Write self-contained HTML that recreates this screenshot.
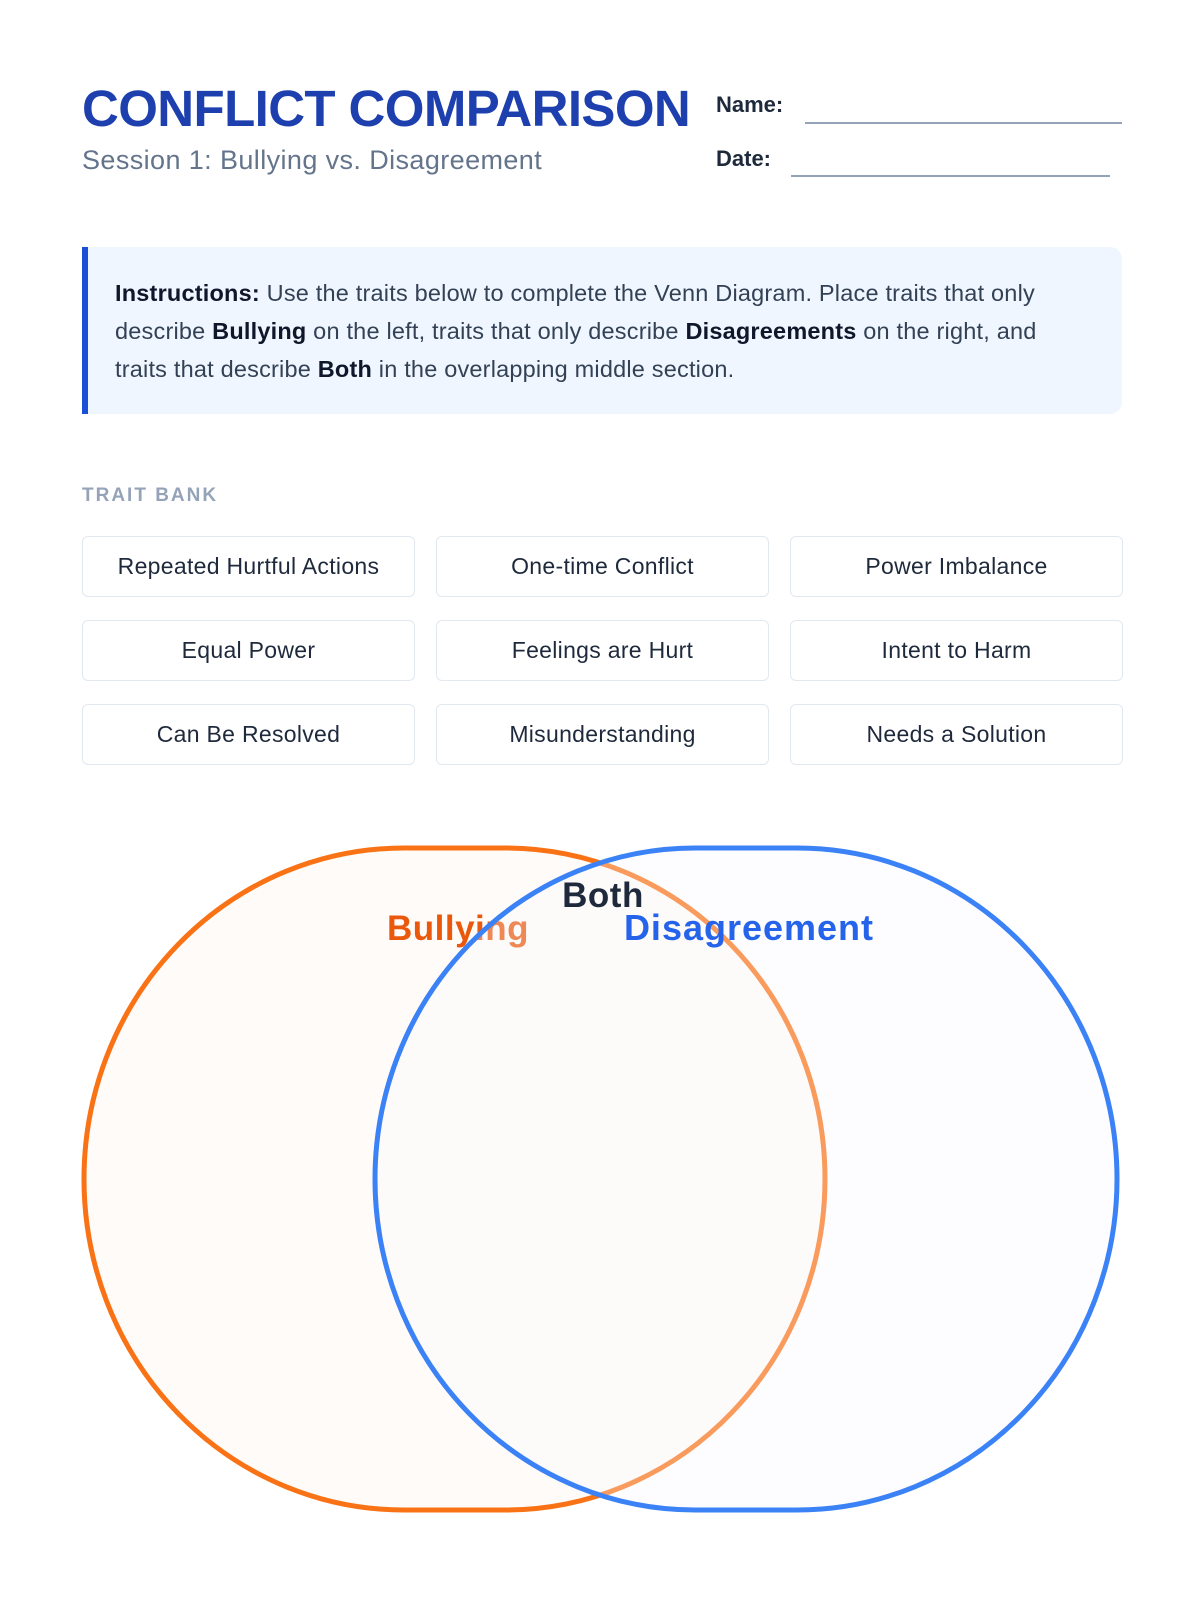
<!DOCTYPE html>
<html><head><meta charset="utf-8"><style>
*{margin:0;padding:0;box-sizing:border-box}
body{width:1200px;height:1600px;background:#fff;font-family:"Liberation Sans",sans-serif;position:relative;overflow:hidden}
.abs{position:absolute}
h1{position:absolute;left:82px;top:79px;font-size:51px;font-weight:bold;color:#1e40af;letter-spacing:-0.6px;white-space:nowrap}
.sub{left:82px;top:145px;font-size:27px;color:#64748b;letter-spacing:0.4px}
.lbl{font-size:22px;font-weight:bold;color:#1e293b}
.line{height:2px;background:#94a3b8}
.inst{left:82px;top:247px;width:1040px;height:167px;background:#eff6ff;border-left:6px solid #1d4ed8;border-radius:0 12px 12px 0;padding:27px 40px 0 27px;font-size:23.5px;line-height:38px;color:#334155;letter-spacing:0.2px}
.inst b{color:#0f172a}
.tb{left:82px;top:485px;font-size:19px;letter-spacing:2px;font-weight:bold;color:#94a3b8}
.chip{position:absolute;width:333px;height:61px;border:1.5px solid #e2e8f0;border-radius:6px;display:flex;align-items:center;justify-content:center;font-size:23px;color:#1e293b;letter-spacing:0.3px}
</style></head><body>
<h1>CONFLICT COMPARISON</h1>
<div class="abs sub">Session 1: Bullying vs. Disagreement</div>
<div class="abs lbl" style="left:716px;top:92px">Name:</div>
<div class="abs line" style="left:805px;top:122px;width:317px"></div>
<div class="abs lbl" style="left:716px;top:146px">Date:</div>
<div class="abs line" style="left:791px;top:175px;width:319px"></div>
<div class="abs inst"><b>Instructions:</b> Use the traits below to complete the Venn Diagram. Place traits that only describe <b>Bullying</b> on the left, traits that only describe <b>Disagreements</b> on the right, and traits that describe <b>Both</b> in the overlapping middle section.</div>
<div class="abs tb">TRAIT BANK</div>
<div class="chip" style="left:82px;top:536px">Repeated Hurtful Actions</div>
<div class="chip" style="left:436px;top:536px">One-time Conflict</div>
<div class="chip" style="left:790px;top:536px">Power Imbalance</div>
<div class="chip" style="left:82px;top:620px">Equal Power</div>
<div class="chip" style="left:436px;top:620px">Feelings are Hurt</div>
<div class="chip" style="left:790px;top:620px">Intent to Harm</div>
<div class="chip" style="left:82px;top:704px">Can Be Resolved</div>
<div class="chip" style="left:436px;top:704px">Misunderstanding</div>
<div class="chip" style="left:790px;top:704px">Needs a Solution</div>
<svg class="abs" style="left:0;top:0" width="1200" height="1600">
<rect x="84" y="848" width="741" height="662" rx="320" ry="331" fill="#fffbf8" stroke="#f97316" stroke-width="5"/>
<g font-family="Liberation Sans,sans-serif" font-weight="bold" font-size="35" text-anchor="middle" letter-spacing="0.5">
<text x="458" y="940" fill="#ea580c">Bullying</text>
</g>
<rect x="375" y="848" width="742" height="662" rx="320" ry="331" fill="rgba(248,250,255,0.3)"/>
<g font-family="Liberation Sans,sans-serif" font-weight="bold" font-size="35" text-anchor="middle" letter-spacing="0.5">
<text x="603" y="907" fill="#1e293b">Both</text>
<text x="749" y="940" fill="#2563eb" font-size="36" letter-spacing="1">Disagreement</text>
</g>
<rect x="375" y="848" width="742" height="662" rx="320" ry="331" fill="none" stroke="#3b82f6" stroke-width="5"/>
</svg>
</body></html>
